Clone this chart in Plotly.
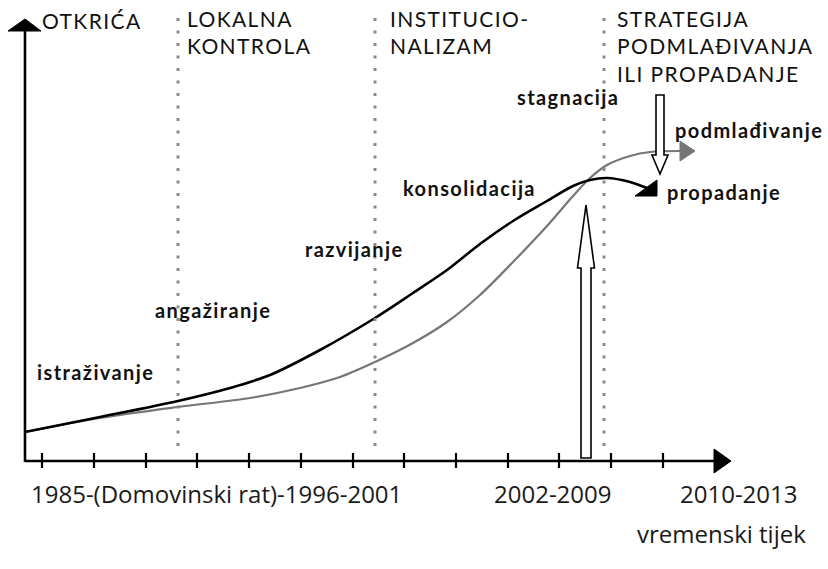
import plotly.graph_objects as go

W, H = 828, 569

# ---------------- data (diagram coordinates; y grows downward) ----------------
tick_x = [42, 94, 146, 197, 249, 301, 353, 404, 456, 508, 559, 611, 663]
phase_x = [178, 375, 604]

black_x = [25, 100, 178, 230, 270, 320, 375, 413, 447, 480, 513, 547, 573, 590, 607, 630, 647]
black_y = [432, 417, 401, 388, 375, 350, 318, 293, 270, 244, 221, 201, 186, 180, 178, 182, 188]

gray_x = [25, 100, 178, 250, 300, 340, 375, 413, 447, 480, 513, 547, 573, 590, 607, 630, 650, 680]
gray_y = [432, 418, 407, 398, 388, 377, 362, 343, 322, 295, 262, 226, 196, 178, 165, 156, 152, 151]

phase_labels = ["OTKRIĆA", "LOKALNA<br>KONTROLA", "INSTITUCIO-<br>NALIZAM",
                "STRATEGIJA<br>PODMLAĐIVANJA<br>ILI PROPADANJE"]
stage_labels = ["istraživanje", "angažiranje", "razvijanje", "konsolidacija",
                "stagnacija", "podmlađivanje", "propadanje"]
period_labels = ["1985-(Domovinski rat)-1996-2001", "2002-2009", "2010-2013"]
axis_title = "vremenski tijek"

# ---------------- layout positions ----------------
phase_pos = [(40, 20), (185, 31.5), (388, 31.5), (615, 46)]
stage_pos = [(35, 372), (153, 310), (303, 249), (401, 188), (515, 97), (673, 130), (665, 192)]
period_pos = [(29, 493, "left"), (553, 493, "center"), (800, 493, "right")]
axis_title_pos = (808, 533)

AX_X0, AX_Y0 = 25, 461        # origin
AX_XEND, AX_YEND = 731, 19    # arrow tips

fig = go.Figure()

fig.add_trace(go.Scatter(x=gray_x, y=gray_y, mode="lines",
                         line=dict(color="#767676", width=2.2, shape="spline", smoothing=0.9),
                         hoverinfo="skip", showlegend=False))
fig.add_trace(go.Scatter(x=black_x, y=black_y, mode="lines",
                         line=dict(color="#000000", width=2.6, shape="spline", smoothing=0.9),
                         hoverinfo="skip", showlegend=False))

shapes = []

def poly(points, fill, line_color, lw):
    p = "M " + " L ".join(f"{x},{y}" for x, y in points) + " Z"
    return dict(type="path", path=p, xref="x", yref="y", fillcolor=fill,
                line=dict(color=line_color, width=lw), layer="above")

for px in phase_x:
    shapes.append(dict(type="line", x0=px, x1=px, y0=18, y1=452, xref="x", yref="y",
                       line=dict(color="#8a8a8a", width=3, dash="3px,9.5px")))

shapes.append(dict(type="line", x0=AX_X0, x1=716, y0=AX_Y0, y1=AX_Y0, xref="x", yref="y",
                   line=dict(color="black", width=2.6)))
shapes.append(dict(type="line", x0=AX_X0, x1=AX_X0, y0=AX_Y0 + 1, y1=30, xref="x", yref="y",
                   line=dict(color="black", width=2.6)))
shapes.append(poly([(714, 449), (AX_XEND, AX_Y0), (714, 473)], "black", "black", 1))
shapes.append(poly([(8, 31), (AX_X0, AX_YEND), (41, 31)], "black", "black", 1))

for tx in tick_x:
    shapes.append(dict(type="line", x0=tx, x1=tx, y0=453, y1=468, xref="x", yref="y",
                       line=dict(color="black", width=2.2)))

gx, gy = gray_x[-1], gray_y[-1]
shapes.append(poly([(gx, gy - 10), (gx + 15, gy), (gx, gy + 10)], "#767676", "#767676", 1))
bx, by = black_x[-1], black_y[-1]
shapes.append(poly([(bx - 12, by + 8), (bx + 10, by + 8), (bx + 10, by - 8)], "black", "black", 1))

def hollow_arrow(cx, base, tip, shaft_w, head_w, head_base):
    pts = [(cx - shaft_w / 2, base), (cx - shaft_w / 2, head_base), (cx - head_w / 2, head_base),
           (cx, tip), (cx + head_w / 2, head_base), (cx + shaft_w / 2, head_base),
           (cx + shaft_w / 2, base)]
    return poly(pts, "white", "black", 1.6)

shapes.append(hollow_arrow(586, 458, 205, 10, 17, 268))
shapes.append(hollow_arrow(660, 95, 174, 8, 16, 155))

annotations = []
for text, (x, y) in zip(phase_labels, phase_pos):
    annotations.append(dict(x=x, y=y, text=text, showarrow=False, align="left",
                            xref="x", yref="y", xanchor="left", yanchor="middle",
                            font=dict(family="Lato", size=21, color="#111111")))
for text, (x, y) in zip(stage_labels, stage_pos):
    annotations.append(dict(x=x, y=y, text=text, showarrow=False, align="left",
                            xref="x", yref="y", xanchor="left", yanchor="middle",
                            font=dict(family="Lato", size=20, color="#111111", weight="bold")))
for text, (x, y, anc) in zip(period_labels, period_pos):
    annotations.append(dict(x=x, y=y, text=text, showarrow=False, xref="x", yref="y",
                            xanchor=anc, yanchor="middle",
                            font=dict(family="Open Sans", size=24, color="#1a1a1a")))
annotations.append(dict(x=axis_title_pos[0], y=axis_title_pos[1], text=axis_title, showarrow=False,
                        xref="x", yref="y", xanchor="right", yanchor="middle",
                        font=dict(family="Open Sans", size=24, color="#1a1a1a")))

fig.update_layout(
    width=W, height=H,
    margin=dict(l=0, r=0, t=0, b=0),
    paper_bgcolor="white", plot_bgcolor="white",
    xaxis=dict(range=[0, W], visible=False, fixedrange=True),
    yaxis=dict(range=[H, 0], visible=False, fixedrange=True),
    shapes=shapes, annotations=annotations, showlegend=False,
)

n_spaced = len(phase_labels) + len(stage_labels)
post = (
    "document.body.style.margin='0px';document.body.style.overflow='hidden';"
    "var gd=document.getElementById('{plot_id}');"
    "gd.querySelectorAll('g.annotation').forEach(function(g){"
    "var i=+g.getAttribute('data-index');"
    "if(i<" + str(n_spaced) + "){g.querySelectorAll('text').forEach(function(t){"
    "t.style.letterSpacing='1.4px';});}});"
)

fig.write_html("out.html", config={"displayModeBar": False, "staticPlot": True},
               post_script=post)
